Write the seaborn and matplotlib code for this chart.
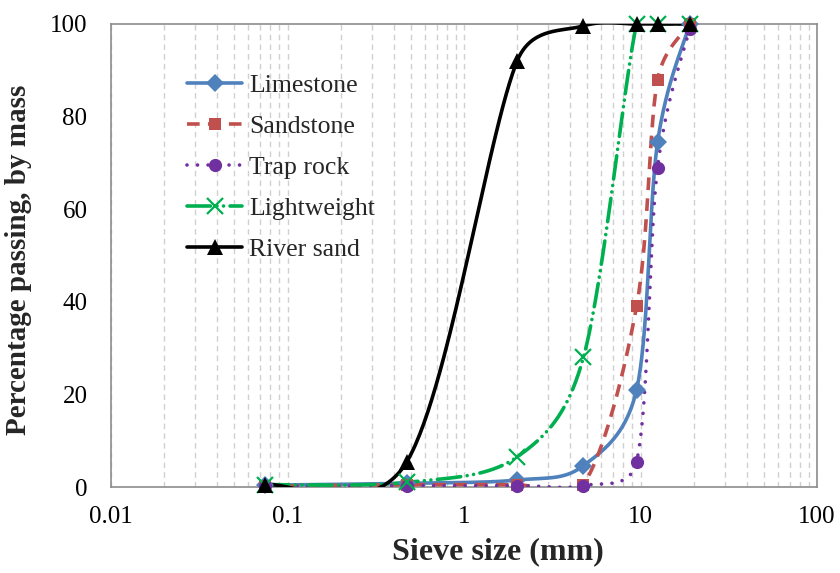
import numpy as np
import pandas as pd
import matplotlib
matplotlib.use("Agg")
import matplotlib.pyplot as plt
from matplotlib.lines import Line2D
from matplotlib.ticker import LogLocator, FixedLocator, MultipleLocator, NullFormatter
import seaborn as sns

# ---- data ----
sieve_mm = [0.075, 0.475, 2.0, 4.75, 9.5, 12.5, 19.0]
limestone = [0.4, 0.8, 1.5, 4.6, 21.0, 74.5, 100.0]
sandstone = [0.2, 0.5, 0.5, 0.5, 39.0, 88.0, 100.0]
trap_rock = [0.2, 0.3, 0.3, 0.3, 5.5, 69.0, 99.0]
lightweight = [0.5, 1.0, 6.5, 28.0, 100.0, 100.0, 100.0]
river_sand = [0.5, 5.5, 92.0, 99.6, 100.0, 100.0, 100.0]

series_names = ["Limestone", "Sandstone", "Trap rock", "Lightweight", "River sand"]
series_values = [limestone, sandstone, trap_rock, lightweight, river_sand]
x_tick_labels = ["0.01", "0.1", "1", "10", "100"]

sns.set_style("white")
plt.rcParams["font.family"] = ["Liberation Serif", "DejaVu Serif"]

# Excel-like smoothing (bezier, tension 1/6) computed in screen-like space
XS, YS = 177.0, 4.62


def excel_smooth(xs, ys, n=60):
    pts = np.column_stack([np.log10(xs) * XS, np.asarray(ys) * YS])
    out = []
    m = len(pts)
    for i in range(m - 1):
        p0 = pts[i - 1] if i > 0 else pts[i]
        p1 = pts[i]
        p2 = pts[i + 1]
        p3 = pts[i + 2] if i + 2 < m else pts[i + 1]
        d12 = np.linalg.norm(p2 - p1)
        d02 = np.linalg.norm(p2 - p0)
        d13 = np.linalg.norm(p3 - p1)
        f1 = 1 / 6 if d02 / 6 < d12 / 2 else d12 / (2 * d02)
        f2 = 1 / 6 if d13 / 6 < d12 / 2 else d12 / (2 * d13)
        c1 = p1 + f1 * (p2 - p0)
        c2 = p2 - f2 * (p3 - p1)
        t = np.linspace(0, 1, n)[:, None]
        b = ((1 - t) ** 3) * p1 + 3 * ((1 - t) ** 2) * t * c1 + 3 * (1 - t) * t ** 2 * c2 + t ** 3 * p2
        out.append(b if i == 0 else b[1:])
    b = np.vstack(out)
    return 10 ** (b[:, 0] / XS), b[:, 1] / YS


colors = ["#4F81BD", "#C0504D", "#7030A0", "#00B050", "#000000"]
markers = ["D", "s", "o", "x", "^"]
msizes = [9.5, 8.5, 9.5, 12, 12]
lw = 2.6
dashes = [None, (3.5, 2.3), (0.01, 2.9), (6.5, 1.8, 0.01, 1.8, 0.01, 1.8), None]

fig = plt.figure(figsize=(8.4, 5.73), dpi=100)
ax = fig.add_axes([111 / 840, 1 - 487 / 573, 706 / 840, 463 / 573])
ax.set_xscale("log")

handles = []
for name, vals, c, mk, ms, ds in zip(series_names, series_values, colors, markers, msizes, dashes):
    sx, sy = excel_smooth(sieve_mm, vals)
    df = pd.DataFrame({"x": sx, "y": sy})
    sns.lineplot(data=df, x="x", y="y", ax=ax, color=c, linewidth=lw, sort=False,
                 estimator=None, zorder=3)
    line = ax.get_lines()[-1]
    if ds is not None:
        line.set_dashes(ds)
        line.set_dash_capstyle("round" if name in ("Trap rock", "Lightweight") else "butt")
    mdf = pd.DataFrame({"x": sieve_mm, "y": vals})
    mkw = dict(color=c, marker=mk, markersize=ms, linestyle="none", zorder=4, clip_on=False)
    if mk == "x":
        mkw["markeredgewidth"] = 1.6
    else:
        mkw["markeredgewidth"] = 0
    ax.plot(mdf["x"], mdf["y"], **mkw)
    h = Line2D([0], [0], color=c, linewidth=lw, marker=mk, markersize=ms,
               markeredgewidth=mkw["markeredgewidth"])
    if ds is not None:
        h.set_dashes(ds)
        h.set_dash_capstyle("round" if name in ("Trap rock", "Lightweight") else "butt")
    handles.append(h)

ax.set_xlim(0.01, 100)
ax.set_ylim(0, 100)
ax.xaxis.set_major_locator(FixedLocator([0.01, 0.1, 1, 10, 100]))
ax.set_xticklabels(x_tick_labels)
ax.xaxis.set_minor_locator(LogLocator(base=10, subs=np.arange(2, 10)))
ax.xaxis.set_minor_formatter(NullFormatter())
ax.yaxis.set_major_locator(MultipleLocator(20))
ax.yaxis.set_minor_locator(MultipleLocator(4))

ax.grid(False)
ax.xaxis.grid(True, which="both", linestyle=(0, (4, 3)), color="#D0D0D0", linewidth=1)
ax.set_axisbelow(True)

spine_c = "#8C8C8C"
for s in ax.spines.values():
    s.set_color(spine_c)
    s.set_linewidth(1.2)
    s.set_visible(True)

ax.tick_params(axis="both", which="major", direction="out", length=6, width=1.2,
               color=spine_c, labelsize=18, labelcolor="black")
ax.tick_params(axis="both", which="minor", direction="out", length=4, width=1,
               color=spine_c)
ax.tick_params(axis="x", which="major", pad=8)
ax.tick_params(axis="y", which="major", pad=11)

ax.set_xlabel("Sieve size (mm)", fontsize=23, fontweight="bold")
ax.set_ylabel("Percentage passing, by mass", fontsize=21, fontweight="bold")
ax.xaxis.set_label_coords(0.548, -0.108)
ax.yaxis.set_label_coords(-0.112, 0.49)

leg = ax.legend(handles, series_names, loc="upper left", bbox_to_anchor=(0.1076, 0.892),
                frameon=False, fontsize=18.5, handlelength=2.15, handletextpad=0.27,
                labelspacing=0.7, borderpad=0, borderaxespad=0, numpoints=1)

fig.savefig("out.png", dpi=100)
